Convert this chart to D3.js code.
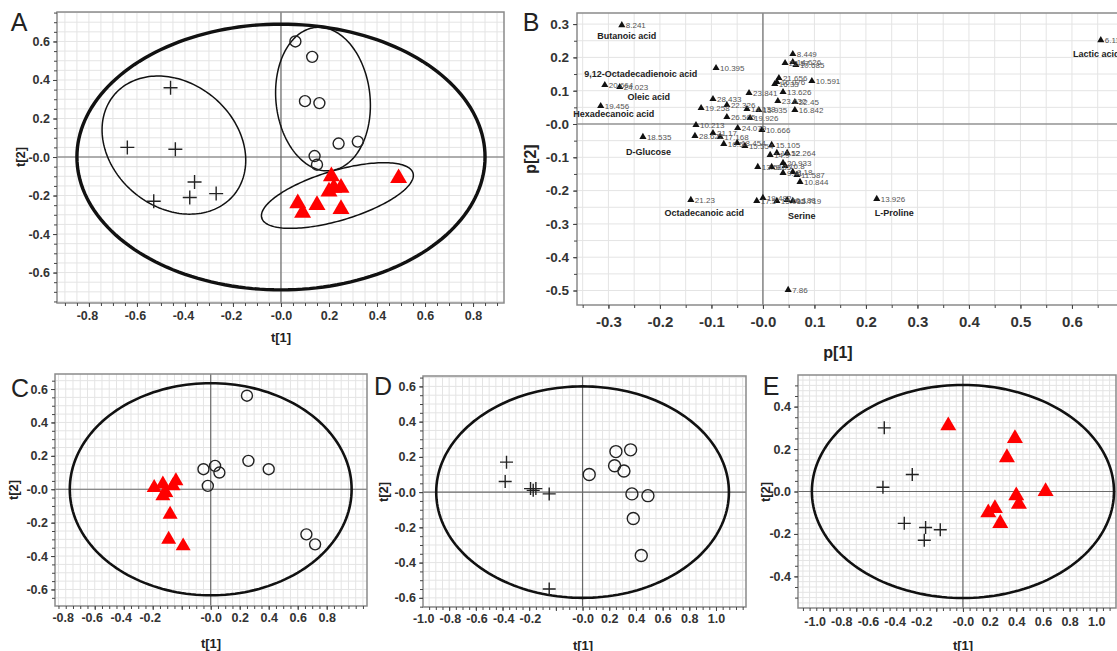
<!DOCTYPE html>
<html>
<head>
<meta charset="utf-8">
<script src="https://cdnjs.cloudflare.com/ajax/libs/d3/7.8.5/d3.min.js"></script>
<style>
  body { margin: 0; background: #fff; }
  svg text { font-family: "Liberation Sans", Arial, sans-serif; }
</style>
</head>
<body>
<svg id="fig" width="1117" height="651"></svg>
<script>
// ---------- data ----------
// panel A: scores t[1], t[2]
var aPlus = [[-0.46,0.36],[-0.64,0.05],[-0.44,0.04],[-0.36,-0.13],[-0.27,-0.19],[-0.38,-0.21],[-0.53,-0.23]];
var aCircle = [[0.06,0.60],[0.13,0.52],[0.10,0.29],[0.16,0.28],[0.24,0.07],[0.32,0.08],[0.14,0.005],[0.15,-0.04]];
var aTriangle = [[0.07,-0.24],[0.09,-0.29],[0.15,-0.25],[0.21,-0.10],[0.22,-0.16],[0.20,-0.18],[0.25,-0.16],[0.25,-0.27],[0.49,-0.11]];
// ellipses: centre x, centre y, semi-axis vector u, semi-axis vector v
var aEllipses = [[0,0,0.85,0,0,0.69],[-0.446,0.062,0.249,-0.260,-0.166,-0.247],[0.175,0.301,0.195,0.0255,0.031,-0.372],[0.235,-0.2,0.315,0.117,0.030,-0.124]];

// panel B: loadings p[1], p[2]
var bLabels = ["8.241","20.664","24.023","19.456","18.535","10.395","28.433","22.326","19.258","23.841","14.138","15.935","26.505","19.926","10.213","28.622","17.168","24.079","21.17","10.666","16.5","18.454","15.554","15.105","14.9","11.52","12.264","13.58","9.85","20.933","16.8","8.18","11.587","10.844","9.41","17.5","19.482","15.092","16.188","15.719","8.449","22.57","14.626","10.685","21.656","16.076","16.33","10.591","13.626","23.632","22.45","16.842","21.23","7.86","13.926","6.118"];
var bP1 = [-0.274,-0.307,-0.278,-0.315,-0.233,-0.091,-0.097,-0.070,-0.120,-0.027,-0.031,-0.008,-0.070,-0.025,-0.130,-0.132,-0.083,-0.049,-0.097,-0.002,-0.076,-0.050,-0.035,0.017,0.014,0.027,0.047,-0.010,0.017,0.039,0.043,0.058,0.066,0.072,0.039,-0.012,0.0,0.027,0.047,0.058,0.058,0.043,0.058,0.064,0.031,0.027,0.023,0.095,0.039,0.029,0.062,0.062,-0.140,0.049,0.221,0.656];
var bP2 = [0.297,0.117,0.111,0.054,-0.039,0.168,0.075,0.057,0.048,0.093,0.045,0.042,0.021,0.018,-0.003,-0.036,-0.039,-0.012,-0.027,-0.018,-0.060,-0.057,-0.066,-0.063,-0.093,-0.087,-0.087,-0.129,-0.129,-0.117,-0.126,-0.144,-0.153,-0.174,-0.147,-0.231,-0.222,-0.231,-0.228,-0.231,0.210,0.183,0.186,0.177,0.138,0.126,0.120,0.129,0.096,0.069,0.066,0.042,-0.228,-0.498,-0.225,0.252];
var bNameOf = ["8.241","20.664","24.023","19.456","18.535","21.23","15.719","13.926","6.118"];
var bNames = ["Butanoic acid","9,12-Octadecadienoic acid","Oleic acid","Hexadecanoic acid","D-Glucose","Octadecanoic acid","Serine","L-Proline","Lactic acid"];

// panel C
var cTriangle = [[-0.39,0.01],[-0.33,0.03],[-0.24,0.05],[-0.26,0.02],[-0.31,-0.02],[-0.33,-0.04],[-0.28,-0.15],[-0.29,-0.30],[-0.19,-0.34]];
var cCircle = [[0.25,0.56],[-0.05,0.12],[0.03,0.14],[0.06,0.10],[-0.02,0.02],[0.26,0.17],[0.40,0.12],[0.66,-0.27],[0.72,-0.33]];
var cEllipses = [[0,0,0.972,0,0,0.635]];
// panel D
var dPlus = [[-0.57,0.17],[-0.58,0.06],[-0.39,0.02],[-0.37,0.01],[-0.35,0.02],[-0.25,-0.01],[-0.25,-0.55]];
var dCircle = [[0.05,0.10],[0.25,0.23],[0.36,0.24],[0.24,0.15],[0.31,0.12],[0.37,-0.01],[0.49,-0.02],[0.38,-0.15],[0.44,-0.36]];
var dEllipses = [[0,0,1.097,0,0,0.6]];
// panel E
var ePlus = [[-0.59,0.30],[-0.38,0.08],[-0.60,0.02],[-0.44,-0.15],[-0.28,-0.17],[-0.17,-0.18],[-0.29,-0.23]];
var eTriangle = [[-0.11,0.31],[0.39,0.25],[0.33,0.16],[0.40,-0.02],[0.42,-0.06],[0.62,0.0],[0.19,-0.10],[0.24,-0.08],[0.28,-0.15]];
var eEllipses = [[0,0,1.133,0,0,0.502]];

// tick labels
var ticksA_x = [-0.8,-0.6,-0.4,-0.2,0,0.2,0.4,0.6,0.8];
var ticksA_y = [-0.6,-0.4,-0.2,0,0.2,0.4,0.6];
var ticksB_x = [-0.3,-0.2,-0.1,0,0.1,0.2,0.3,0.4,0.5,0.6];
var ticksB_y = [-0.5,-0.4,-0.3,-0.2,-0.1,0,0.1,0.2,0.3];
var ticksC_x = [-0.8,-0.6,-0.4,-0.2,0,0.2,0.4,0.6,0.8];
var ticksD_x = [-1.0,-0.8,-0.6,-0.4,-0.2,0,0.2,0.4,0.6,0.8,1.0];
var ticksE_y = [-0.4,-0.2,0,0.2,0.4];

// ---------- drawing ----------
var svg = d3.select("#fig");
var RED = "#ff0000", INK = "#222";

function fmt(v) { return (v <= 0 ? "-" : "") + Math.abs(v).toFixed(1); }

function steps(lo, hi, st) {
	var out = [];
	for (var i = Math.ceil(lo / st - 1e-9); i * st <= hi + 1e-9; i++) out.push(+(i * st).toFixed(4));
	return out;
}

function ellipsePath(x, y, e) {
	var pts = d3.range(0, 180).map(function(i) {
		var t = i / 180 * 2 * Math.PI;
		return [x(e[0] + e[2] * Math.cos(t) + e[4] * Math.sin(t)),
		        y(e[1] + e[3] * Math.cos(t) + e[5] * Math.sin(t))];
	});
	return d3.line().curve(d3.curveLinearClosed)(pts);
}

function styleTicks(sel, size) {
	sel.select(".domain").remove();
	sel.selectAll(".tick line").attr("stroke", "#444");
	sel.selectAll(".tick text")
		.attr("font-size", size).attr("font-weight", "bold")
		.attr("font-family", "'Liberation Sans', Arial, sans-serif").attr("fill", "#333");
}

function drawPanel(p) {
	var g = svg.append("g");
	var b = p.box;
	var x = d3.scaleLinear().domain(p.xDom).range([b[0], b[2]]);
	var y = d3.scaleLinear().domain(p.yDom).range([b[3], b[1]]);

	// grid
	g.append("g").selectAll("line").data(steps(p.xDom[0], p.xDom[1], p.gridX)).enter().append("line")
		.attr("x1", function(d) { return x(d); }).attr("x2", function(d) { return x(d); })
		.attr("y1", b[1]).attr("y2", b[3]).attr("stroke", "#e4e4e4");
	g.append("g").selectAll("line").data(steps(p.yDom[0], p.yDom[1], p.gridY)).enter().append("line")
		.attr("y1", function(d) { return y(d); }).attr("y2", function(d) { return y(d); })
		.attr("x1", b[0]).attr("x2", b[2]).attr("stroke", "#e4e4e4");

	// zero lines
	g.append("line").attr("x1", x(0)).attr("x2", x(0)).attr("y1", b[1]).attr("y2", b[3])
		.attr("stroke", "#6a6a6a").attr("stroke-width", 1.2);
	g.append("line").attr("y1", y(0)).attr("y2", y(0)).attr("x1", b[0]).attr("x2", b[2])
		.attr("stroke", "#6a6a6a").attr("stroke-width", 1.2);

	// frame
	g.append("rect").attr("x", b[0]).attr("y", b[1]).attr("width", b[2] - b[0]).attr("height", b[3] - b[1])
		.attr("fill", "none").attr("stroke", "#8a8a8a").attr("stroke-width", 1.5);

	// minor ticks
	g.append("g").attr("transform", "translate(0," + b[3] + ")")
		.call(d3.axisBottom(x).tickValues(steps(p.xDom[0], p.xDom[1], 0.05)).tickSize(3).tickFormat(""))
		.call(styleTicks, p.fs);
	g.append("g").attr("transform", "translate(" + b[0] + ",0)")
		.call(d3.axisLeft(y).tickValues(steps(p.yDom[0], p.yDom[1], 0.05)).tickSize(3).tickFormat(""))
		.call(styleTicks, p.fs);

	// labelled axes
	var ax = g.append("g").attr("transform", "translate(0," + b[3] + ")")
		.call(d3.axisBottom(x).tickValues(p.xTicks).tickSize(4).tickPadding(p.padX).tickFormat(fmt))
		.call(styleTicks, p.fs);
	ax.selectAll(".tick text").attr("dx", function(d) { return d < 0 ? p.negShift : 0; });
	g.append("g").attr("transform", "translate(" + b[0] + ",0)")
		.call(d3.axisLeft(y).tickValues(p.yTicks).tickSize(4).tickPadding(p.padY).tickFormat(fmt))
		.call(styleTicks, p.fsY || p.fs);

	// axis titles
	g.append("text").attr("x", p.xTitle[0]).attr("y", p.xTitle[1]).attr("text-anchor", "middle")
		.attr("font-size", p.titleFs).attr("font-weight", "bold").attr("fill", INK).text(p.xName);
	g.append("text").attr("transform", "translate(" + p.yTitle[0] + "," + p.yTitle[1] + ") rotate(-90)")
		.attr("text-anchor", "middle").attr("font-size", p.titleFs).attr("font-weight", "bold")
		.attr("fill", INK).text(p.yName);

	// panel letter
	g.append("text").attr("x", p.letterPos[0]).attr("y", p.letterPos[1]).attr("text-anchor", "middle")
		.attr("font-size", 25).attr("fill", INK).text(p.letter);

	// confidence ellipses
	(p.ellipses || []).forEach(function(e, i) {
		g.append("path").attr("d", ellipsePath(x, y, e)).attr("fill", "none")
			.attr("stroke", "#111").attr("stroke-width", p.ellipseW[i]);
	});

	// markers
	var s = p.mark;
	g.append("g").selectAll("path").data(p.plus || []).enter().append("path")
		.attr("d", "M" + (-s.plus) + ",0H" + s.plus + "M0," + (-s.plus) + "V" + s.plus)
		.attr("transform", function(d) { return "translate(" + x(d[0]) + "," + y(d[1]) + ")"; })
		.attr("stroke", INK).attr("stroke-width", 1.4).attr("fill", "none");
	g.append("g").selectAll("circle").data(p.circle || []).enter().append("circle")
		.attr("cx", function(d) { return x(d[0]); }).attr("cy", function(d) { return y(d[1]); })
		.attr("r", s.r).attr("fill", "none").attr("stroke", INK).attr("stroke-width", 1.4);
	g.append("g").selectAll("path").data(p.triangle || []).enter().append("path")
		.attr("d", d3.symbol(d3.symbolTriangle, s.tri * s.tri * Math.sqrt(3) / 4))
		.attr("transform", function(d) { return "translate(" + x(d[0]) + "," + y(d[1]) + ")"; })
		.attr("fill", RED);

	return { x: x, y: y, g: g };
}

// A
drawPanel({
	box: [57, 12, 504, 303], xDom: [-0.933, 0.929], yDom: [-0.758, 0.753],
	xTicks: ticksA_x, yTicks: ticksA_y, gridX: 0.05, gridY: 0.05, negShift: -2,
	fs: 12.5, padX: 4, padY: 3, titleFs: 13,
	xName: "t[1]", yName: "t[2]", xTitle: [281, 342], yTitle: [25, 157],
	letter: "A", letterPos: [19, 31],
	ellipses: aEllipses, ellipseW: [3.4, 1.5, 1.5, 1.5],
	plus: aPlus, circle: aCircle, triangle: aTriangle,
	mark: { plus: 7, r: 5.5, tri: 17 }
});

// B
var pb = drawPanel({
	box: [577, 13, 1125, 305], xDom: [-0.361, 0.703], yDom: [-0.5435, 0.3333],
	xTicks: ticksB_x, yTicks: ticksB_y, gridX: 0.05, gridY: 0.05, negShift: 0,
	fs: 15, fsY: 13.5, padX: 7, padY: 4, titleFs: 16,
	xName: "p[1]", yName: "p[2]", xTitle: [838, 358], yTitle: [536, 159],
	letter: "B", letterPos: [531, 31],
	mark: {}
});
var bPts = bLabels.map(function(l, i) { return { label: l, p1: bP1[i], p2: bP2[i] }; });
var bg = pb.g.append("g");
bg.selectAll("path").data(bPts).enter().append("path")
	.attr("d", d3.symbol(d3.symbolTriangle, 22))
	.attr("transform", function(d) { return "translate(" + pb.x(d.p1) + "," + pb.y(d.p2) + ")"; })
	.attr("fill", "#111");
bg.selectAll("text").data(bPts).enter().append("text")
	.attr("x", function(d) { return pb.x(d.p1) + 4; }).attr("y", function(d) { return pb.y(d.p2) + 3; })
	.attr("font-size", 8).attr("fill", "#555").text(function(d) { return d.label; });
// compound names, offset from their marker
var nameOffset = [[5, 13.5], [36, -8.5], [29, 12.5], [13, 10.5], [5.5, 18.5], [13.5, 16.5], [9, 18.5], [17.5, 17.5], [-4.5, 16.5]];
bNames.forEach(function(n, i) {
	var k = bLabels.indexOf(bNameOf[i]);
	bg.append("text")
		.attr("x", pb.x(bP1[k]) + nameOffset[i][0]).attr("y", pb.y(bP2[k]) + nameOffset[i][1])
		.attr("text-anchor", "middle").attr("font-size", 9).attr("font-weight", "bold")
		.attr("font-family", "'Liberation Serif', 'Times New Roman', serif").attr("fill", "#222")
		.text(n);
});

// C
drawPanel({
	box: [55, 374, 367, 606], xDom: [-1.074, 1.078], yDom: [-0.699, 0.69],
	xTicks: ticksC_x, yTicks: ticksA_y, gridX: 0.05, gridY: 0.05, negShift: -32,
	fs: 12.5, padX: 3, padY: 3, titleFs: 13,
	xName: "t[1]", yName: "t[2]", xTitle: [211, 648], yTitle: [18, 490],
	letter: "C", letterPos: [20, 397],
	ellipses: cEllipses, ellipseW: [2.6],
	circle: cCircle, triangle: cTriangle,
	mark: { r: 5.5, tri: 15 }
});

// D
drawPanel({
	box: [423, 376, 746, 607], xDom: [-1.196, 1.225], yDom: [-0.652, 0.659],
	xTicks: ticksD_x, yTicks: ticksA_y, gridX: 0.05, gridY: 0.05, negShift: -26,
	fs: 12.5, padX: 3, padY: 3, titleFs: 13,
	xName: "t[1]", yName: "t[2]", xTitle: [583, 650], yTitle: [388, 492],
	letter: "D", letterPos: [383, 395],
	ellipses: dEllipses, ellipseW: [2.6],
	plus: dPlus, circle: dCircle,
	mark: { plus: 6.5, r: 6 }
});

// E
drawPanel({
	box: [798, 375, 1116, 608], xDom: [-1.237, 1.148], yDom: [-0.549, 0.549],
	xTicks: ticksD_x, yTicks: ticksE_y, gridX: 0.05, gridY: 0.025, negShift: -15,
	fs: 12.5, padX: 5, padY: 3, titleFs: 13,
	xName: "t[1]", yName: "t[2]", xTitle: [963, 650], yTitle: [770, 492],
	letter: "E", letterPos: [771, 395],
	ellipses: eEllipses, ellipseW: [2.6],
	plus: ePlus, triangle: eTriangle,
	mark: { plus: 6.5, tri: 16 }
});
</script>
</body>
</html>
